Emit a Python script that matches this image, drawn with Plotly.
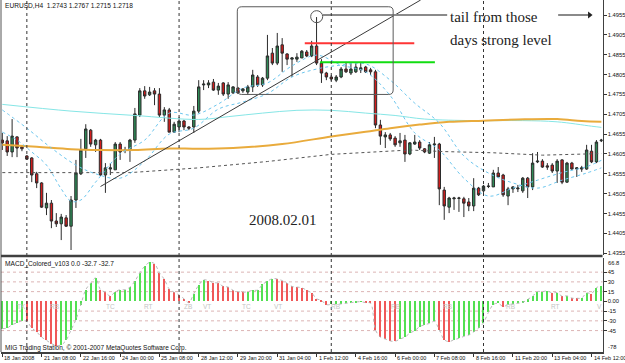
import plotly.graph_objects as go

# ---------------- data ----------------
bars = list(range(123))

open_p = [
    1.4640, 1.4638, 1.4610, 1.4648, 1.4623, 1.4600, 1.4595, 1.4555, 1.4532, 1.4469,
    1.4481, 1.4436, 1.4429, 1.4444, 1.4423, 1.4489, 1.4555, 1.4618, 1.4665, 1.4628,
    1.4640, 1.4552, 1.4567, 1.4565, 1.4630, 1.4615, 1.4615, 1.4640, 1.4703, 1.4764,
    1.4754, 1.4764, 1.4756, 1.4703, 1.4716, 1.4660, 1.4673, 1.4688, 1.4673, 1.4673,
    1.4713, 1.4779, 1.4779, 1.4786, 1.4766, 1.4784, 1.4756, 1.4759, 1.4771, 1.4764,
    1.4761, 1.4774, 1.4799, 1.4779, 1.4796, 1.4859, 1.4834, 1.4880, 1.4857, 1.4844,
    1.4844, 1.4847, 1.4862, 1.4852, 1.4877, 1.4834, 1.4809, 1.4799, 1.4791, 1.4799,
    1.4819, 1.4809, 1.4812, 1.4817, 1.4824, 1.4817, 1.4812, 1.4678, 1.4648, 1.4653,
    1.4645, 1.4633, 1.4640, 1.4605, 1.4630, 1.4635, 1.4618, 1.4607, 1.4628, 1.4630,
    1.4514, 1.4471, 1.4492, 1.4493, 1.4492, 1.4484, 1.4474, 1.4519, 1.4512, 1.4523,
    1.4522, 1.4557, 1.4552, 1.4499, 1.4517, 1.4517, 1.4512, 1.4544, 1.4522, 1.4585,
    1.4587, 1.4575, 1.4577, 1.4562, 1.4590, 1.4534, 1.4582, 1.4567, 1.4567, 1.4567,
    1.4612, 1.4585, 1.4638]

high_p = [
    1.4658, 1.4650, 1.4693, 1.4650, 1.4625, 1.4602, 1.4597, 1.4560, 1.4534, 1.4507,
    1.4489, 1.4456, 1.4454, 1.4451, 1.4499, 1.4590, 1.4643, 1.4680, 1.4668, 1.4643,
    1.4643, 1.4582, 1.4582, 1.4635, 1.4635, 1.4623, 1.4643, 1.4721, 1.4771, 1.4776,
    1.4774, 1.4771, 1.4771, 1.4723, 1.4721, 1.4686, 1.4698, 1.4691, 1.4675, 1.4726,
    1.4791, 1.4791, 1.4791, 1.4794, 1.4784, 1.4786, 1.4786, 1.4776, 1.4774, 1.4771,
    1.4779, 1.4817, 1.4804, 1.4799, 1.4905, 1.4872, 1.4910, 1.4897, 1.4859, 1.4849,
    1.4859, 1.4867, 1.4867, 1.4890, 1.4950, 1.4844, 1.4812, 1.4804, 1.4804, 1.4824,
    1.4837, 1.4834, 1.4834, 1.4834, 1.4827, 1.4822, 1.4817, 1.4691, 1.4660, 1.4658,
    1.4650, 1.4658, 1.4653, 1.4635, 1.4653, 1.4640, 1.4620, 1.4635, 1.4648, 1.4633,
    1.4522, 1.4497, 1.4497, 1.4497, 1.4497, 1.4494, 1.4544, 1.4522, 1.4527, 1.4532,
    1.4565, 1.4572, 1.4555, 1.4522, 1.4524, 1.4527, 1.4547, 1.4547, 1.4607, 1.4610,
    1.4592, 1.4582, 1.4582, 1.4592, 1.4592, 1.4585, 1.4585, 1.4572, 1.4575, 1.4628,
    1.4628, 1.4640, 1.4643]

low_p = [
    1.4615, 1.4600, 1.4597, 1.4597, 1.4612, 1.4590, 1.4534, 1.4519, 1.4469, 1.4451,
    1.4418, 1.4421, 1.4388, 1.4421, 1.4363, 1.4469, 1.4552, 1.4595, 1.4623, 1.4610,
    1.4550, 1.4507, 1.4552, 1.4565, 1.4590, 1.4607, 1.4585, 1.4633, 1.4698, 1.4744,
    1.4751, 1.4728, 1.4698, 1.4686, 1.4660, 1.4658, 1.4660, 1.4665, 1.4665, 1.4658,
    1.4708, 1.4766, 1.4771, 1.4764, 1.4754, 1.4751, 1.4744, 1.4756, 1.4756, 1.4759,
    1.4754, 1.4761, 1.4774, 1.4774, 1.4791, 1.4829, 1.4829, 1.4812, 1.4829, 1.4799,
    1.4837, 1.4847, 1.4849, 1.4849, 1.4829, 1.4784, 1.4791, 1.4789, 1.4786, 1.4796,
    1.4809, 1.4804, 1.4809, 1.4809, 1.4809, 1.4804, 1.4670, 1.4628, 1.4620, 1.4638,
    1.4623, 1.4623, 1.4585, 1.4602, 1.4628, 1.4615, 1.4607, 1.4605, 1.4595, 1.4476,
    1.4439, 1.4456, 1.4464, 1.4459, 1.4446, 1.4461, 1.4461, 1.4499, 1.4507, 1.4519,
    1.4522, 1.4547, 1.4497, 1.4476, 1.4507, 1.4509, 1.4507, 1.4494, 1.4514, 1.4582,
    1.4570, 1.4565, 1.4557, 1.4532, 1.4529, 1.4532, 1.4565, 1.4547, 1.4560, 1.4565,
    1.4582, 1.4582, 1.4635]

close_p = [
    1.4633, 1.4610, 1.4650, 1.4620, 1.4618, 1.4592, 1.4552, 1.4532, 1.4471, 1.4481,
    1.4436, 1.4429, 1.4446, 1.4423, 1.4489, 1.4557, 1.4615, 1.4668, 1.4630, 1.4640,
    1.4552, 1.4570, 1.4570, 1.4630, 1.4610, 1.4614, 1.4640, 1.4706, 1.4764, 1.4751,
    1.4761, 1.4756, 1.4703, 1.4716, 1.4660, 1.4680, 1.4688, 1.4673, 1.4670, 1.4713,
    1.4774, 1.4781, 1.4784, 1.4766, 1.4776, 1.4756, 1.4779, 1.4774, 1.4759, 1.4769,
    1.4774, 1.4804, 1.4779, 1.4796, 1.4852, 1.4834, 1.4877, 1.4859, 1.4844, 1.4847,
    1.4849, 1.4864, 1.4852, 1.4877, 1.4834, 1.4809, 1.4799, 1.4794, 1.4799, 1.4819,
    1.4812, 1.4819, 1.4824, 1.4822, 1.4812, 1.4812, 1.4678, 1.4650, 1.4653, 1.4643,
    1.4628, 1.4638, 1.4605, 1.4633, 1.4635, 1.4620, 1.4610, 1.4628, 1.4630, 1.4517,
    1.4474, 1.4494, 1.4494, 1.4494, 1.4481, 1.4474, 1.4519, 1.4502, 1.4524, 1.4524,
    1.4557, 1.4547, 1.4502, 1.4517, 1.4522, 1.4519, 1.4544, 1.4522, 1.4582, 1.4587,
    1.4572, 1.4572, 1.4562, 1.4587, 1.4534, 1.4582, 1.4567, 1.4570, 1.4570, 1.4615,
    1.4585, 1.4635, 1.4640]

# moving averages (sampled along the curves)
ma_orange_x = [0, 7, 14, 20, 27, 34, 40, 47, 57, 67, 74, 79, 85, 91, 98, 105, 113, 118, 122]
ma_orange_y = [1.4628, 1.4623, 1.4617, 1.4615, 1.4615, 1.4619, 1.4618, 1.4620, 1.4630, 1.4649,
               1.4661, 1.4670, 1.4679, 1.4686, 1.4689, 1.4692, 1.4693, 1.4688, 1.4686]

ma_cyan_x = [0, 14, 27, 40, 46, 53, 60, 67, 74, 80, 86, 96, 106, 113, 120, 122]
ma_cyan_y = [1.4730, 1.4713, 1.4702, 1.4692, 1.4699, 1.4708, 1.4715, 1.4715, 1.4708, 1.4702,
             1.4693, 1.4689, 1.4689, 1.4686, 1.4675, 1.4672]

ma_fast_x = [0, 3, 6, 9, 12, 14, 16, 19, 24, 29, 34, 39, 44, 49, 54, 59, 64, 69, 74, 79, 84,
             89, 94, 99, 104, 109, 114, 119, 122]
ma_fast_y = [1.4660, 1.4640, 1.4610, 1.4577, 1.4517, 1.4486, 1.4489, 1.4534, 1.4605, 1.4640,
             1.4708, 1.4703, 1.4731, 1.4771, 1.4784, 1.4827, 1.4854, 1.4829, 1.4812, 1.4752,
             1.4658, 1.4615, 1.4544, 1.4499, 1.4519, 1.4539, 1.4558, 1.4573, 1.4589]

ma_slow_x = [0, 5, 10, 15, 19, 24, 29, 34, 39, 44, 49, 54, 59, 64, 69, 74, 79, 84, 89, 94,
             99, 104, 109, 114, 119, 122]
ma_slow_y = [1.4716, 1.4670, 1.4620, 1.4577, 1.4555, 1.4544, 1.4587, 1.4655, 1.4670, 1.4718,
             1.4736, 1.4757, 1.4799, 1.4819, 1.4829, 1.4832, 1.4791, 1.4733, 1.4683, 1.4600,
             1.4557, 1.4532, 1.4519, 1.4539, 1.4557, 1.4570]

ma_dark_x = [0, 26, 40, 54, 67, 77, 83, 90, 100, 110, 117, 122]
ma_dark_y = [1.4558, 1.4558, 1.4570, 1.4586, 1.4604, 1.4612, 1.4615, 1.4611, 1.4608, 1.4602,
             1.4604, 1.4606]

macd_vals = [
    -42, -41, -36, -33, -30, -31, -41, -47, -55, -60,
    -65, -68, -67, -60, -44, -28, -5, 18, 28, 36,
    18, 14, 8, 15, 18, 18, 22, 31, 44, 54,
    60, 58, 44, 34, 19, 14, 10, 4, -2, 12,
    25, 33, 32, 29, 28, 23, 22, 17, 15, 14,
    15, 17, 17.5, 26, 31, 35, 34.5, 32, 28, 23,
    22, 21, 17, 13, 4, 1.5, -5, -4.8, -4.5, -4,
    -3, -2, -1, -0.5, -2, -3, -44, -55, -58, -61,
    -61.5, -58, -55, -49, -45, -39, -36, -34, -31, -44,
    -59, -62, -59, -57, -54, -52, -47, -41, -33, -17,
    -5, -3, -8, -5, -4, -3, -1.5, 3, 8, 15,
    15, 16, 13, 13.5, 8, 8.5, 5, 4.8, 5.2, 13,
    12, 21, 24]

price_ticks = [1.4955, 1.4905, 1.4855, 1.4805, 1.4755, 1.4705, 1.4655, 1.4605, 1.4555,
               1.4505, 1.4455, 1.4405, 1.4355]
macd_ticks = [45, 30, 15, 0, -15, -30, -45]
macd_tick_text = ["45", "30", "15", "0.00", "-15", "-30", "-45"]

date_pos = [0, 8, 16, 24, 32, 40, 48, 56, 64, 72, 80, 88, 96, 104, 112, 120]
date_text = ["18 Jan 2008", "21 Jan 08:00", "22 Jan 16:00", "24 Jan 00:00", "25 Jan 08:00",
             "28 Jan 12:00", "29 Jan 20:00", "31 Jan 04:00", "1 Feb 12:00", "4 Feb 16:00",
             "6 Feb 00:00", "7 Feb 08:00", "8 Feb 16:00", "11 Feb 20:00", "13 Feb 04:00",
             "14 Feb 12:00"]

week_sep = [5, 36, 67, 98]

wave_x = [4, 10.7, 22, 29.7, 37.8, 41.7, 49.8, 56.2, 67.8, 80, 90.6, 103.4, 112.6, 121.7]
wave_text = ["TK", "RB", "TC", "RT", "ZB", "VT", "TC", "VT", "RB", "RB", "RB", "RB", "RT", "V"]

# drawn objects
trend_x = [20, 85.2]
trend_y = [1.4523, 1.4993]
red_level_x = [61.6, 83.9]
red_level_y = 1.4884
green_level_x = [64.7, 88.1]
green_level_y = 1.4836
tail_level_y = 1.4955
tail_seg1_x = [65.3, 90.6]
tail_seg2_x = [113.2, 119.6]

# ---------------- figure ----------------
SANS = "Liberation Sans, Arial, sans-serif"
SERIF = "Liberation Serif, Times New Roman, serif"

XR = [-0.265, 122.235]
XD = [1 / 625, 602.5 / 625]
Y1D = [1 - 255 / 363, 1]
Y2D = [1 - 352 / 363, 1 - 258 / 363]

fig = go.Figure()

fig.add_trace(go.Candlestick(
    x=bars, open=open_p, high=high_p, low=low_p, close=close_p,
    increasing=dict(fillcolor="#2e8b57", line=dict(color="#2b2b2b", width=1)),
    decreasing=dict(fillcolor="#d41c1c", line=dict(color="#2b2b2b", width=1)),
    whiskerwidth=0, showlegend=False, hoverinfo="skip", xaxis="x", yaxis="y"))

fig.add_trace(go.Scatter(x=ma_dark_x, y=ma_dark_y, mode="lines",
                         line=dict(color="#555555", width=1, dash="dot"),
                         showlegend=False, hoverinfo="skip"))
fig.add_trace(go.Scatter(x=ma_cyan_x, y=ma_cyan_y, mode="lines", line_shape="spline",
                         line=dict(color="#86e6e6", width=1),
                         showlegend=False, hoverinfo="skip"))
fig.add_trace(go.Scatter(x=ma_orange_x, y=ma_orange_y, mode="lines", line_shape="spline",
                         line=dict(color="#e9ab3c", width=2),
                         showlegend=False, hoverinfo="skip"))
fig.add_trace(go.Scatter(x=ma_fast_x, y=ma_fast_y, mode="lines", line_shape="spline",
                         line=dict(color="#6cc6ee", width=1, dash="dot"),
                         showlegend=False, hoverinfo="skip"))
fig.add_trace(go.Scatter(x=ma_slow_x, y=ma_slow_y, mode="lines", line_shape="spline",
                         line=dict(color="#6cc6ee", width=1, dash="dot"),
                         showlegend=False, hoverinfo="skip"))

# trend line and levels
fig.add_trace(go.Scatter(x=trend_x, y=trend_y, mode="lines",
                         line=dict(color="#3a3a3a", width=1),
                         showlegend=False, hoverinfo="skip"))
fig.add_trace(go.Scatter(x=red_level_x, y=[red_level_y] * 2, mode="lines",
                         line=dict(color="#ff3535", width=2),
                         showlegend=False, hoverinfo="skip"))
fig.add_trace(go.Scatter(x=green_level_x, y=[green_level_y] * 2, mode="lines",
                         line=dict(color="#11dd11", width=2),
                         showlegend=False, hoverinfo="skip"))
for seg in (tail_seg1_x, tail_seg2_x):
    fig.add_trace(go.Scatter(x=seg, y=[tail_level_y] * 2, mode="lines",
                             line=dict(color="#8a8a8a", width=2),
                             showlegend=False, hoverinfo="skip"))
fig.add_trace(go.Scatter(x=[tail_seg2_x[1]], y=[tail_level_y], mode="markers",
                         marker=dict(symbol="triangle-right", size=6, color="#222222"),
                         showlegend=False, hoverinfo="skip"))

# MACD histogram
colors = []
for k, v in enumerate(macd_vals):
    prev = macd_vals[k - 1] if k > 0 else v
    colors.append("#52e052" if v >= prev else "#f05858")
fig.add_trace(go.Bar(x=bars, y=macd_vals, marker_color=colors, marker_line_width=0,
                     width=0.24, xaxis="x2", yaxis="y2", showlegend=False, hoverinfo="skip"))
fig.add_trace(go.Scatter(x=bars, y=macd_vals, mode="lines", line_shape="spline",
                         line=dict(color="#b8b8b8", width=1, dash="dot"),
                         xaxis="x2", yaxis="y2", showlegend=False, hoverinfo="skip"))

shapes = []
for lv in [45, 30, 15, -15, -30, -45]:
    shapes.append(dict(type="line", xref="paper", yref="y2", x0=XD[0], x1=XD[1], y0=lv, y1=lv,
                       line=dict(color="#dcb4b4", width=1, dash="dot"), layer="below"))
for s in week_sep:
    shapes.append(dict(type="line", xref="x", yref="paper", x0=s, x1=s, y0=Y2D[0], y1=1,
                       line=dict(color="#333333", width=1, dash="dot")))
shapes += [
    dict(type="line", xref="paper", yref="paper", x0=XD[0], x1=XD[0], y0=Y2D[0], y1=1,
         line=dict(color="#555555", width=1)),
    dict(type="line", xref="paper", yref="paper", x0=XD[0], x1=XD[1], y0=1 - 256 / 363,
         y1=1 - 256 / 363, line=dict(color="#404040", width=2.5)),
]
bx0, bx1, by0, by1 = 47.86, 79.6, 1.4755, 1.4976
rx, ry = 0.9, 0.0011
path = (f"M {bx0+rx},{by1} L {bx1-rx},{by1} Q {bx1},{by1} {bx1},{by1-ry} "
        f"L {bx1},{by0+ry} Q {bx1},{by0} {bx1-rx},{by0} L {bx0+rx},{by0} "
        f"Q {bx0},{by0} {bx0},{by0+ry} L {bx0},{by1-ry} Q {bx0},{by1} {bx0+rx},{by1} Z")
shapes.append(dict(type="path", xref="x", yref="y", path=path,
                   line=dict(color="#5a5a5a", width=1)))
shapes.append(dict(type="circle", xref="x", yref="y", x0=62.8, x1=65.25,
                   y0=1.49359, y1=1.49661, line=dict(color="#555555", width=1)))

ann = []
ann.append(dict(text="EURUSD,H4  1.2743 1.2767 1.2715 1.2718", xref="paper", yref="paper",
                x=3 / 625, y=1 - 6 / 363, xanchor="left", yanchor="middle", showarrow=False,
                font=dict(family=SANS, size=6.6, color="#111111")))
ann.append(dict(text="MACD_Colored_v103 0.0 -32.7 -32.7", xref="paper", yref="paper",
                x=3 / 625, y=1 - 264 / 363, xanchor="left", yanchor="middle", showarrow=False,
                font=dict(family=SANS, size=6.6, color="#111111")))
ann.append(dict(text="MIG Trading Station, © 2001-2007 MetaQuotes Software Corp.", xref="paper",
                yref="paper", x=3 / 625, y=1 - 347.5 / 363, xanchor="left", yanchor="middle",
                showarrow=False, font=dict(family=SANS, size=6.5, color="#111111")))
ann.append(dict(text="tail from those", xref="x", yref="y", x=90.8, y=1.4951, xanchor="left",
                yanchor="middle", showarrow=False,
                font=dict(family=SERIF, size=15, color="#222222")))
ann.append(dict(text="days strong level", xref="x", yref="y", x=90.8, y=1.4891, xanchor="left",
                yanchor="middle", showarrow=False,
                font=dict(family=SERIF, size=15, color="#222222")))
ann.append(dict(text="2008.02.01", xref="x", yref="y", x=49.8, y=1.4439, xanchor="left",
                yanchor="middle", showarrow=False,
                font=dict(family=SERIF, size=15, color="#222222")))
for p, t in zip(date_pos, date_text):
    ann.append(dict(text=t, xref="x2", yref="paper", x=p, y=1 - 358 / 363, xanchor="left",
                    yanchor="middle", showarrow=False,
                    font=dict(family=SANS, size=5.5, color="#111111")))
for p, t in zip(wave_x, wave_text):
    ann.append(dict(text=t, xref="x2", yref="y2", x=p, y=-8, xanchor="center",
                    yanchor="middle", showarrow=False,
                    font=dict(family=SANS, size=6.5, color="#c4c4c4")))
ann.append(dict(text="66.8", xref="paper", yref="y2", x=606 / 625, y=66.8, xanchor="left",
                yanchor="top", showarrow=False, font=dict(family=SANS, size=5.8, color="#111111")))
ann.append(dict(text="-78", xref="paper", yref="y2", x=606 / 625, y=-78, xanchor="left",
                yanchor="bottom", showarrow=False, font=dict(family=SANS, size=5.8, color="#111111")))

fig.update_layout(
    width=625, height=363, margin=dict(l=0, r=0, t=0, b=0),
    paper_bgcolor="white", plot_bgcolor="white", showlegend=False,
    font=dict(family=SANS, size=6, color="#111111"),
    xaxis=dict(domain=XD, range=XR, anchor="y", showgrid=False, zeroline=False,
               showticklabels=False, ticks="", rangeslider=dict(visible=False),
               fixedrange=True),
    yaxis=dict(domain=Y1D, range=[1.43504, 1.4993], side="right", anchor="x",
               tickvals=price_ticks, ticktext=[f"{v:.4f}" for v in price_ticks],
               ticks="outside", ticklen=3, tickcolor="#333333",
               tickfont=dict(family=SANS, size=5.8, color="#111111"),
               showgrid=False, zeroline=False, showline=True, linecolor="#404040",
               linewidth=1, fixedrange=True),
    xaxis2=dict(domain=XD, range=XR, anchor="y2", showgrid=False, zeroline=False,
                showticklabels=False, tickvals=date_pos, ticks="outside", ticklen=3,
                tickcolor="#333333", showline=True, linecolor="#404040", linewidth=1.5,
                fixedrange=True),
    yaxis2=dict(domain=Y2D, range=[-78, 66.8], side="right", anchor="x2",
                tickvals=macd_ticks, ticktext=macd_tick_text, ticks="outside", ticklen=3,
                tickcolor="#333333", tickfont=dict(family=SANS, size=5.8, color="#111111"),
                showgrid=False, zeroline=False, showline=True, linecolor="#404040",
                linewidth=1, fixedrange=True),
    bargap=0, shapes=shapes, annotations=ann,
)

fig.write_html("out.html")
